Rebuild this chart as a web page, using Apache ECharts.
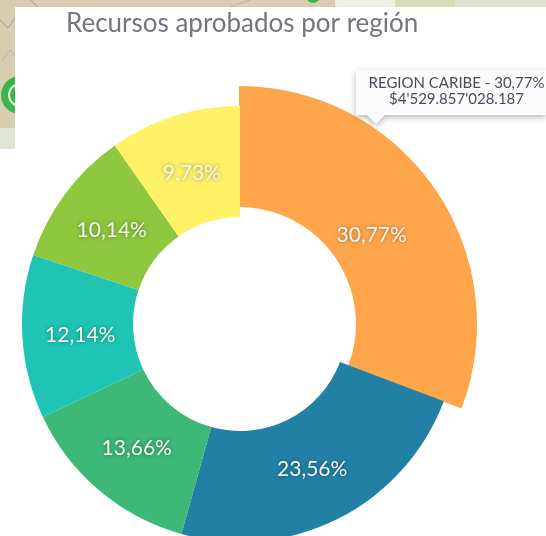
<!DOCTYPE html>
<html>
<head>
<meta charset="utf-8">
<style>html,body{margin:0;padding:0;background:#fff}#c{width:546px;height:536px}</style>
<script src="https://cdn.jsdelivr.net/npm/echarts@6/dist/echarts.min.js"></script>
</head>
<body>
<div id="c"></div>
<script>
const titleText = 'Recursos aprobados por región';
const shares = [30.77, 23.56, 13.66, 12.14, 10.14, 9.73];
const sliceColors = ['#FFA64D', '#2280A4', '#3DB877', '#1FC4B4', '#8FC73E', '#FFF266'];
const tooltipLines = ['REGION CARIBE - 30,77%', "$4'529.857'028.187"];
const FONT = 'Lato, "Open Sans", sans-serif';
const chart = echarts.init(document.getElementById('c'), null, {renderer: 'canvas'});
const fmt = v => v.toFixed(2).replace('.', ',') + '%';
const mapBits = [
  {type:'rect', shape:{x:0,y:0,width:546,height:149}, style:{fill:'#D8CDB1'}},
  {type:'rect', shape:{x:335,y:0,width:60,height:8}, style:{fill:'#F0EFE6'}},
  {type:'rect', shape:{x:395,y:0,width:60,height:8}, style:{fill:'#D3DDB8'}},
  {type:'rect', shape:{x:455,y:0,width:91,height:8}, style:{fill:'#DDE3CC'}},
  {type:'rect', shape:{x:0,y:128,width:15,height:21}, style:{fill:'#DCE6D2'}},
  {type:'polyline', shape:{points:[[0,20],[8,28],[15,18]]}, style:{fill:'none',stroke:'#A89F86',lineWidth:1}},
  {type:'polyline', shape:{points:[[2,60],[10,50],[15,56]]}, style:{fill:'none',stroke:'#BDB297',lineWidth:1}},
  {type:'polyline', shape:{points:[[30,0],[38,7]]}, style:{fill:'none',stroke:'#A89F86',lineWidth:1}},
  {type:'polyline', shape:{points:[[230,7],[250,0]]}, style:{fill:'none',stroke:'#BDB297',lineWidth:1}},
  {type:'circle', shape:{cx:20,cy:95,r:19}, style:{fill:'#3DB54A'}},
  {type:'circle', shape:{cx:20,cy:95,r:11}, style:{fill:'none',stroke:'#D9F0DA',lineWidth:2}},
  {type:'circle', shape:{cx:313,cy:-4,r:7}, style:{fill:'#3DB54A'}},
  {type:'rect', shape:{x:15,y:7,width:531,height:529}, style:{fill:'#fff'}},
  {type:'rect', shape:{x:0,y:149,width:15,height:387}, style:{fill:'#fff'}}
];
const tip = [
  {type:'polygon', shape:{points:[[356,70],[546,70],[546,115],[385,115],[376,124],[367,115],[356,115]]},
   style:{fill:'#FBFBFB', shadowBlur:6, shadowColor:'rgba(0,0,0,0.3)', shadowOffsetY:2}, z:20},
  {type:'text', x:456.5, y:83, z:21, style:{text:tooltipLines[0], font:'15px '+FONT, fill:'#474B5A', align:'center', verticalAlign:'middle'}},
  {type:'text', x:456.5, y:99, z:21, style:{text:tooltipLines[1], font:'15px '+FONT, fill:'#474B5A', align:'center', verticalAlign:'middle'}}
];
chart.setOption({
  animation: false,
  backgroundColor: '#fff',
  title: {text: titleText, left: 66, top: 11, padding: 0,
    textStyle: {fontFamily: FONT, fontSize: 26, fontWeight: 'normal', color: '#737680'}},
  graphic: {elements: mapBits.map(b => Object.assign({silent:true, z:-10, zlevel:0}, b)).concat(tip)},
  series: [
    {
      type: 'pie', z: 3, center: [239, 324], radius: [117, 238], startAngle: 90, clockwise: true,
      silent: true, label: {show: false}, labelLine: {show: false},
      data: shares.map((v, i) => ({value: v, itemStyle: {color: i === 0 ? sliceColors[0] : 'rgba(0,0,0,0)'}}))
    },
    {
      type: 'pie', z: 4, center: [240, 324], radius: [107, 218], startAngle: 90, clockwise: true,
      silent: true, label: {show: false}, labelLine: {show: false},
      data: shares.map((v, i) => ({value: v, itemStyle: {color: i === 0 ? 'rgba(0,0,0,0)' : sliceColors[i]}}))
    },
    {
      type: 'pie', z: 5, center: [240, 326], radius: [96, 218], startAngle: 90, clockwise: true,
      silent: true, labelLine: {show: false}, itemStyle: {color: 'rgba(0,0,0,0)'},
      label: {show: true, position: 'inside', formatter: p => fmt(p.value),
        fontFamily: FONT, fontSize: 21, color: '#F4F6EE', fontWeight: 'normal',
        textShadowBlur: 4, textShadowColor: 'rgba(0,0,0,0.4)'},
      data: shares.map(v => ({value: v}))
    }
  ]
});
</script>
</body>
</html>
